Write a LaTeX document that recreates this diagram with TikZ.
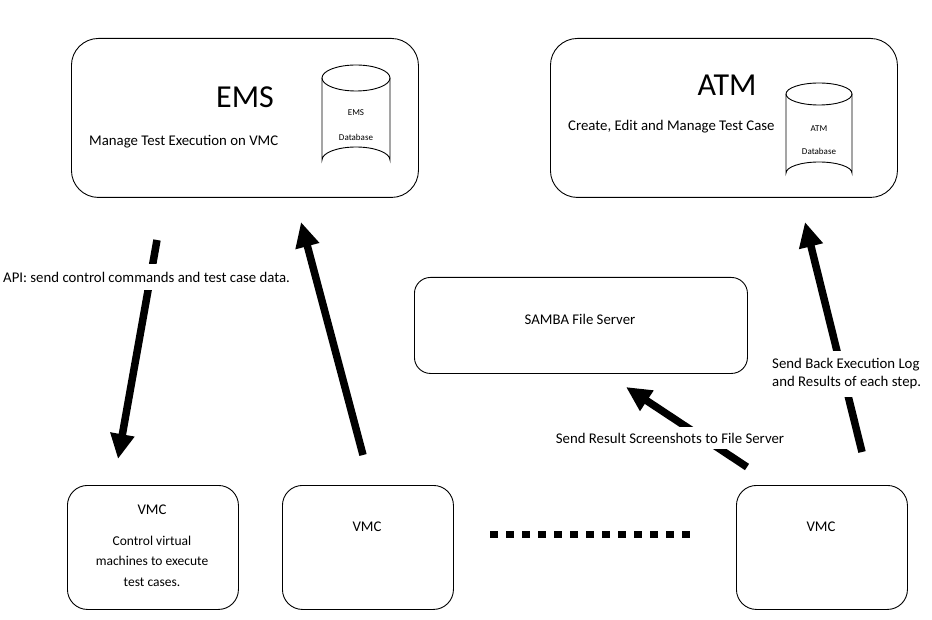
\documentclass[tikz,border=0pt]{standalone}
\usepackage{fontspec}
\setmainfont{Carlito}
\usetikzlibrary{arrows.meta}
\tikzset{
  bigbox/.style={draw, line width=0.9pt, rounded corners=27pt, inner sep=0pt, anchor=north west},
  midbox/.style={draw, line width=0.9pt, rounded corners=16pt, inner sep=0pt, anchor=north west},
  vmcbox/.style={draw, line width=0.9pt, rounded corners=20pt, inner sep=0pt, anchor=north west, minimum width=171pt, minimum height=124pt},
  title/.style={inner sep=0pt, font=\fontsize{32}{38}\selectfont},
  txt/.style={inner sep=0pt, font=\fontsize{14.8}{17}\selectfont},
  small/.style={inner sep=0pt, font=\fontsize{13.5}{20.5}\selectfont, align=center},
  tiny/.style={inner sep=0pt, font=\fontsize{9}{10}\selectfont},
  cyl/.style={line width=0.9pt},
  bigarrow/.style={line width=7.5pt, -{Triangle[length=25pt,width=23pt]}},
  lbl/.style={fill=white, inner xsep=2pt, font=\fontsize{14.8}{18}\selectfont},
  dots/.style={line width=7.5pt, dash pattern=on 8pt off 8pt},
}
\begin{document}
\begin{tikzpicture}[x=1pt,y=-1pt]
\useasboundingbox (0,0) rectangle (932,620);
% main boxes
\node[bigbox, minimum width=347pt, minimum height=159pt] (ems) at (71,38) {};
\node[bigbox, minimum width=347pt, minimum height=159pt] (atm) at (550,38) {};
\node[midbox, minimum width=333pt, minimum height=96pt] (samba) at (414,277) {};
\node[vmcbox] (vmc1) at (67,485) {};
\node[vmcbox] (vmc2) at (282,485) {};
\node[vmcbox] (vmc3) at (736,485) {};
% texts
\node[title] (emst) at (245,97) {EMS};
\node[txt, anchor=west] (emsd) at (89,142) {Manage Test Execution on VMC};
\node[title] (atmt) at (727,85) {ATM};
\node[txt, anchor=west] (atmd) at (568,127) {Create, Edit and Manage Test Case};
\node[txt] (sambat) at (580,319) {SAMBA File Server};
\node[txt] (v1t) at (152,510) {VMC};
\node[small] (v1d) at (152,561) {Control virtual\\machines to execute\\test cases.};
\node[txt] (v2t) at (367,527) {VMC};
\node[txt] (v3t) at (821,527) {VMC};
% EMS database cylinder
\draw[cyl] (356,78) ellipse [x radius=34, y radius=13];
\draw[cyl] (322,78) -- (322,160) arc[start angle=180, end angle=360, x radius=34, y radius=13] -- (390,78);
\node[tiny] (emsdb1) at (356,113) {EMS};
\node[tiny] (emsdb2) at (356,137) {Database};
% ATM database cylinder
\draw[cyl] (819,94) ellipse [x radius=33, y radius=11];
\draw[cyl] (786,94) -- (786,173) arc[start angle=180, end angle=360, x radius=33, y radius=11] -- (852,94);
\node[tiny] (atmdb1) at (819,129) {ATM};
\node[tiny] (atmdb2) at (819,151) {Database};
% arrow end points
\coordinate (a1s) at (157,240);
\coordinate (a1e) at (118,459);
\coordinate (a2s) at (363,455);
\coordinate (a2e) at (301,222);
\coordinate (a3s) at (747,467);
\coordinate (a3e) at (626,387);
\coordinate (a4s) at (862,452);
\coordinate (a4e) at (805,222);
\draw[bigarrow] (a1s) -- (a1e);
\draw[bigarrow] (a2s) -- (a2e);
\draw[bigarrow] (a3s) -- (a3e);
\draw[bigarrow] (a4s) -- (a4e);
% labels
\node[lbl, anchor=west, inner ysep=8pt] (l1) at (1,277) {API: send control commands and test case data.};
\node[lbl, inner ysep=6pt] (l3) at (670,438) {Send Result Screenshots to File Server};
\node[lbl, anchor=west, align=left, inner ysep=8pt] (l4) at (770,374) {Send Back Execution Log\\and Results of each step.};
% dotted ellipsis
\coordinate (d1) at (490,534.5);
\coordinate (d2) at (690,534.5);
\draw[dots] (d1) -- (d2);
\end{tikzpicture}
\end{document}
